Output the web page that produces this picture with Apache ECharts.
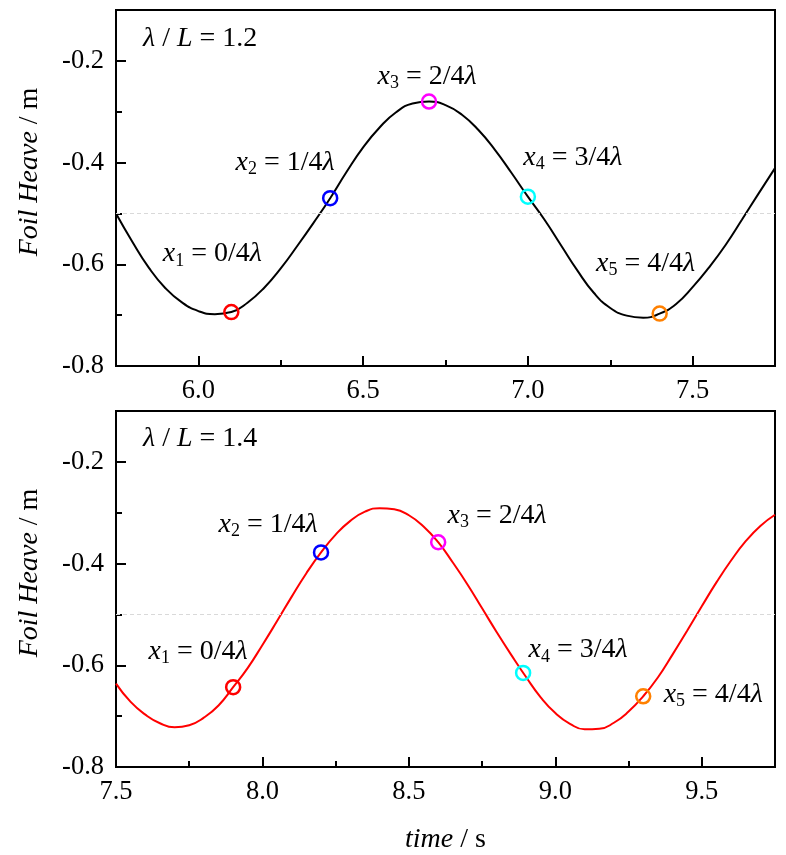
<!DOCTYPE html>
<html>
<head>
<meta charset="utf-8">
<script src="https://cdn.jsdelivr.net/npm/echarts@6.0.0/dist/echarts.min.js"></script>
<style>
  html, body { margin: 0; padding: 0; background: #fff; }
  #main { width: 786px; height: 855px; }
</style>
</head>
<body>
<div id="main"></div>
<script>
// 上图 λ/L = 1.2
var topTime = [5.75, 5.80, 5.85, 5.90, 5.95, 6.00, 6.05, 6.10, 6.15, 6.20, 6.25, 6.30, 6.35, 6.40,
  6.45, 6.50, 6.55, 6.60, 6.65, 6.70, 6.75, 6.80, 6.85, 6.90, 6.95, 7.00, 7.05, 7.10, 7.15,
  7.20, 7.25, 7.30, 7.35, 7.40, 7.45, 7.50, 7.55, 7.60, 7.65, 7.70, 7.75];
var topHeave = [-0.500, -0.556, -0.607, -0.647, -0.675, -0.692, -0.698, -0.694, -0.675, -0.646,
  -0.608, -0.564, -0.518, -0.470, -0.418, -0.370, -0.331, -0.301, -0.284, -0.280, -0.287,
  -0.306, -0.336, -0.375, -0.420, -0.467, -0.512, -0.562, -0.612, -0.656, -0.686, -0.701,
  -0.705, -0.697, -0.678, -0.645, -0.606, -0.562, -0.512, -0.461, -0.411];
var topMarkTime = [6.1, 6.4, 6.7, 7.0, 7.4];
var topMarkHeave = [-0.694, -0.470, -0.280, -0.467, -0.697];

// 下图 λ/L = 1.4
var bottomTime = [7.50, 7.55, 7.60, 7.65, 7.70, 7.75, 7.80, 7.85, 7.90, 7.95, 8.00, 8.05, 8.10,
  8.15, 8.20, 8.25, 8.30, 8.35, 8.40, 8.45, 8.50, 8.55, 8.60, 8.65, 8.70, 8.75, 8.80, 8.85,
  8.90, 8.95, 9.00, 9.05, 9.10, 9.15, 9.20, 9.25, 9.30, 9.35, 9.40, 9.45, 9.50, 9.55, 9.60,
  9.65, 9.70, 9.75];
var bottomHeave = [-0.636, -0.672, -0.697, -0.714, -0.722, -0.718, -0.703, -0.679, -0.643,
  -0.605, -0.560, -0.513, -0.465, -0.419, -0.378, -0.343, -0.316, -0.298, -0.291, -0.293,
  -0.305, -0.327, -0.358, -0.398, -0.441, -0.488, -0.535, -0.580, -0.623, -0.663, -0.694,
  -0.715, -0.726, -0.725, -0.713, -0.691, -0.661, -0.624, -0.579, -0.532, -0.484, -0.437,
  -0.394, -0.356, -0.326, -0.304];
var bottomMarkTime = [7.9, 8.2, 8.6, 8.89, 9.3];
var bottomMarkHeave = [-0.643, -0.378, -0.358, -0.615, -0.661];

var markNames = ['{i|x}{s|1} = 0/4{i|λ}', '{i|x}{s|2} = 1/4{i|λ}', '{i|x}{s|3} = 2/4{i|λ}',
  '{i|x}{s|4} = 3/4{i|λ}', '{i|x}{s|5} = 4/4{i|λ}'];
var markColors = ['#ff0000', '#0000ff', '#ff00ff', '#00ffff', '#ff8000'];

var topXTicks = [6.0, 6.5, 7.0, 7.5];
var topXMinor = [6.25, 6.75, 7.25];
var bottomXTicks = [7.5, 8.0, 8.5, 9.0, 9.5];
var bottomXMinor = [7.75, 8.25, 8.75, 9.25];
var yTicks = [-0.8, -0.6, -0.4, -0.2];
var yMinor = [-0.7, -0.5, -0.3];

// 标签相对圆圈的偏移（像素）
var topLabelOffset = [[-19, -58], [-45, -36], [-2, -25], [45, -39], [-14, -50]];
var bottomLabelOffset = [[-35, -36], [-53, -28], [59, -27], [55, -23], [70, -2]];

var FONT = 'Liberation Serif';
var rich = {
  i: { fontFamily: FONT, fontSize: 28, fontStyle: 'italic', color: '#000', lineHeight: 32, verticalAlign: 'middle' },
  n: { fontFamily: FONT, fontSize: 28, color: '#000', lineHeight: 32, verticalAlign: 'middle' },
  s: { fontFamily: FONT, fontSize: 18, color: '#000', lineHeight: 10, verticalAlign: 'bottom' }
};

function pairs(t, v) {
  return t.map(function (x, i) { return [x, v[i]]; });
}

function markers(t, v, offsets) {
  return t.map(function (x, i) {
    return {
      value: [x, v[i]],
      itemStyle: { color: 'rgba(0,0,0,0)', borderColor: markColors[i], borderWidth: 2.5, opacity: 1 },
      label: { offset: offsets[i] }
    };
  });
}

function xAxes(gridIndex, min, max, major, minor, name) {
  return [{
    type: 'value', gridIndex: gridIndex, position: 'bottom', min: min, max: max,
    name: name || '', nameLocation: 'middle', nameGap: 57,
    nameTextStyle: { fontFamily: FONT, fontSize: 28, color: '#000', rich: rich },
    axisLine: { show: true, lineStyle: { color: '#000', width: 2 } },
    axisTick: { inside: true, length: 10, customValues: major, lineStyle: { color: '#000', width: 2 } },
    axisLabel: { customValues: major, margin: 12, fontFamily: FONT, fontSize: 26.5, color: '#000',
      formatter: function (v) { return v.toFixed(1); } },
    splitLine: { show: false }
  }, {
    type: 'value', gridIndex: gridIndex, position: 'bottom', min: min, max: max,
    axisLine: { show: false },
    axisTick: { inside: true, length: 6, customValues: minor, lineStyle: { color: '#000', width: 2 } },
    axisLabel: { show: false },
    splitLine: { show: false }
  }];
}

function yAxes(gridIndex) {
  return [{
    type: 'value', gridIndex: gridIndex, position: 'left', min: -0.8, max: -0.1,
    name: '{i|Foil Heave} / m', nameLocation: 'middle', nameGap: 70, nameRotate: 90,
    nameTextStyle: { fontFamily: FONT, fontSize: 28, color: '#000', rich: rich, padding: [0, 0, 0, 32] },
    axisLine: { show: true, lineStyle: { color: '#000', width: 2 } },
    axisTick: { inside: true, length: 10, customValues: yTicks, lineStyle: { color: '#000', width: 2 } },
    axisLabel: { customValues: yTicks, margin: 12, fontFamily: FONT, fontSize: 26.5, color: '#000',
      formatter: function (v) { return v.toFixed(1); } },
    splitLine: { show: false }
  }, {
    type: 'value', gridIndex: gridIndex, position: 'left', min: -0.8, max: -0.1,
    axisLine: { show: false },
    axisTick: { inside: true, length: 6, customValues: yMinor, lineStyle: { color: '#000', width: 2 } },
    axisLabel: { show: false },
    splitLine: { show: false }
  }];
}

function curve(xi, yi, data, color) {
  return {
    type: 'line', xAxisIndex: xi, yAxisIndex: yi, data: data,
    smooth: 0.5, symbol: 'none', z: 3,
    lineStyle: { color: color, width: 2 },
    markLine: {
      silent: true, symbol: 'none', label: { show: false },
      lineStyle: { color: '#d9d9d9', width: 1, type: [4, 3] },
      data: [{ yAxis: -0.5 }]
    }
  };
}

function points(xi, yi, data) {
  return {
    type: 'scatter', xAxisIndex: xi, yAxisIndex: yi, data: data,
    symbol: 'circle', symbolSize: 14, z: 5,
    itemStyle: { opacity: 1 },
    label: {
      show: true, position: 'inside', align: 'center', verticalAlign: 'middle',
      fontFamily: FONT, fontSize: 28, color: '#000', lineHeight: 32, opacity: 1,
      textBorderWidth: 0, textBorderColor: 'transparent', textShadowBlur: 0,
      formatter: function (p) { return markNames[p.dataIndex]; },
      rich: rich
    }
  };
}

var chart = echarts.init(document.getElementById('main'));
chart.setOption({
  animation: false,
  backgroundColor: '#fff',
  grid: [
    { left: 116, right: 11, top: 10, height: 356, show: true, borderColor: '#000', borderWidth: 2 },
    { left: 116, right: 11, top: 411, height: 356, show: true, borderColor: '#000', borderWidth: 2 }
  ],
  graphic: [
    { type: 'text', left: 143, top: 25, style: { text: '{i|λ} / {i|L} = 1.2', rich: rich, font: '28px ' + FONT, fill: '#000' } },
    { type: 'text', left: 143, top: 425, style: { text: '{i|λ} / {i|L} = 1.4', rich: rich, font: '28px ' + FONT, fill: '#000' } }
  ],
  xAxis: xAxes(0, 5.75, 7.75, topXTicks, topXMinor)
    .concat(xAxes(1, 7.5, 9.75, bottomXTicks, bottomXMinor, '{i|time} / s')),
  yAxis: yAxes(0).concat(yAxes(1)),
  series: [
    curve(0, 0, pairs(topTime, topHeave), '#000'),
    points(0, 0, markers(topMarkTime, topMarkHeave, topLabelOffset)),
    curve(2, 2, pairs(bottomTime, bottomHeave), '#ff0000'),
    points(2, 2, markers(bottomMarkTime, bottomMarkHeave, bottomLabelOffset))
  ]
});
window.onresize = function () {
  chart.resize();
};
</script>
</body>
</html>
